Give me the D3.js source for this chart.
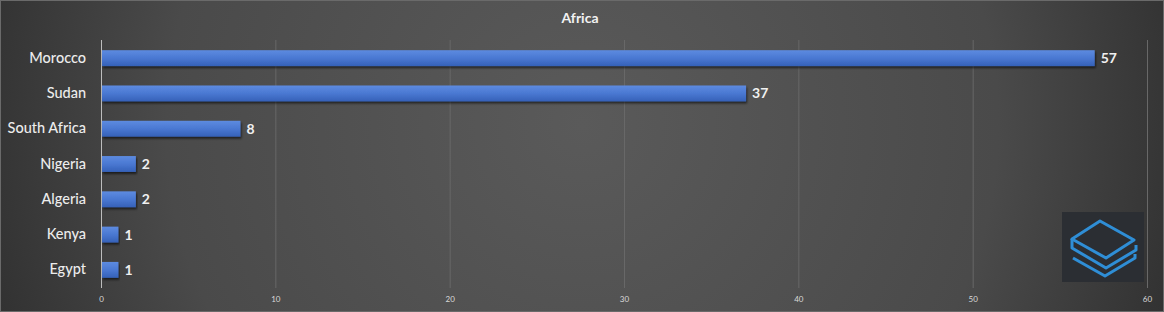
<!DOCTYPE html>
<html><head><meta charset="utf-8">
<script src="https://cdn.jsdelivr.net/npm/d3@7"></script>
<style>html,body{margin:0;padding:0;background:#333;}svg{display:block;}</style>
</head><body>
<script>
const categories = ["Morocco","Sudan","South Africa","Nigeria","Algeria","Kenya","Egypt"];
const values = [57,37,8,2,2,1,1];
const tickValues = [0,10,20,30,40,50,60];
const title = "Africa";

const W = 1164, H = 312;
const svg = d3.select("body").append("svg").attr("width", W).attr("height", H);
const defs = svg.append("defs");
const bg = defs.append("radialGradient").attr("id","bg").attr("cx","50%").attr("cy","40%").attr("r","65%")
  .attr("gradientTransform","translate(0.5,0.4) scale(1,3.7) translate(-0.5,-0.4)");
bg.append("stop").attr("offset","0%").attr("stop-color","#5a5a5a");
bg.append("stop").attr("offset","55%").attr("stop-color","#4a4a4a");
bg.append("stop").attr("offset","100%").attr("stop-color","#202020");
const bar = defs.append("linearGradient").attr("id","bar").attr("x1",0).attr("y1",0).attr("x2",0).attr("y2",1);
bar.append("stop").attr("offset","0%").attr("stop-color","#5d8be0");
bar.append("stop").attr("offset","50%").attr("stop-color","#4a78d2");
bar.append("stop").attr("offset","100%").attr("stop-color","#3561b8");
const sh = defs.append("filter").attr("id","sh").attr("x","-5%").attr("y","-30%").attr("width","110%").attr("height","180%");
sh.append("feDropShadow").attr("dx",1).attr("dy",2).attr("stdDeviation",1.2).attr("flood-color","#000").attr("flood-opacity",0.6);

svg.append("rect").attr("width",W).attr("height",H).attr("fill","url(#bg)");
svg.append("rect").attr("x",0.5).attr("y",0.5).attr("width",W-1).attr("height",H-1).attr("fill","none").attr("stroke","#6a6a6a").attr("stroke-width",1);

const x = d3.scaleLinear().domain([0,60]).range([101,1147]);
const y = d3.scaleBand().domain(categories).range([40.5,287.5]).paddingInner(0.55).paddingOuter(0.275);

// grid
svg.append("g").selectAll("line").data(tickValues).join("line")
  .attr("x1",d=>x(d)+0.5).attr("x2",d=>x(d)+0.5).attr("y1",40).attr("y2",288)
  .attr("stroke",(d)=> d===0 ? "#bdbdbd" : "#686868").attr("stroke-width",1);

// x axis labels
const xa = svg.append("g").attr("transform","translate(0,288)")
  .call(d3.axisBottom(x).tickValues(tickValues).tickSize(0).tickPadding(8));
xa.select(".domain").remove();
xa.selectAll("text").attr("fill","#d9d9d9").attr("font-family","Lato, 'Open Sans', sans-serif").attr("font-size",8);

// y axis labels
const ya = svg.append("g").attr("transform","translate(101,0)")
  .call(d3.axisLeft(y).tickSize(0).tickPadding(15));
ya.select(".domain").remove();
ya.selectAll("text").attr("fill","#ececec").attr("font-family","Lato, 'Open Sans', sans-serif").attr("font-size",14.5).attr("font-weight",500);

// bars
svg.append("g").selectAll("rect").data(values).join("rect")
  .attr("x",x(0)+1).attr("y",(d,i)=>y(categories[i]))
  .attr("width",d=>x(d)-x(0)-1).attr("height",y.bandwidth())
  .attr("fill","url(#bar)").attr("filter","url(#sh)");

// value labels
svg.append("g").selectAll("text").data(values).join("text")
  .attr("x",d=>x(d)+6).attr("y",(d,i)=>y(categories[i])+y.bandwidth()/2)
  .attr("dy","0.36em").text(d=>d)
  .attr("fill","#f0f0f0").attr("font-family","Lato, 'Open Sans', sans-serif").attr("font-size",14).attr("font-weight","bold");

// title
svg.append("text").attr("x",580).attr("y",23).attr("text-anchor","middle").text(title)
  .attr("fill","#f2f2f2").attr("font-family","Lato, 'Open Sans', sans-serif").attr("font-size",14).attr("font-weight","bold");

// logo
const lg = svg.append("g").attr("transform","translate(1062,212)");
lg.append("rect").attr("width",82).attr("height",70).attr("fill","#2b2e33");
const blue = "#2f8ed6";
lg.append("path").attr("d","M10,27 L38,9 L72,28 L44,46 Z").attr("fill","none").attr("stroke",blue).attr("stroke-width",3).attr("stroke-linejoin","round");
lg.append("path").attr("d","M10,27 L10,36 L44,56 L74,38 L74,33").attr("fill","none").attr("stroke",blue).attr("stroke-width",3).attr("stroke-linejoin","round");
lg.append("path").attr("d","M11,46 L43,64 L73,46 L73,42").attr("fill","none").attr("stroke",blue).attr("stroke-width",3).attr("stroke-linejoin","round");
</script>
</body></html>
